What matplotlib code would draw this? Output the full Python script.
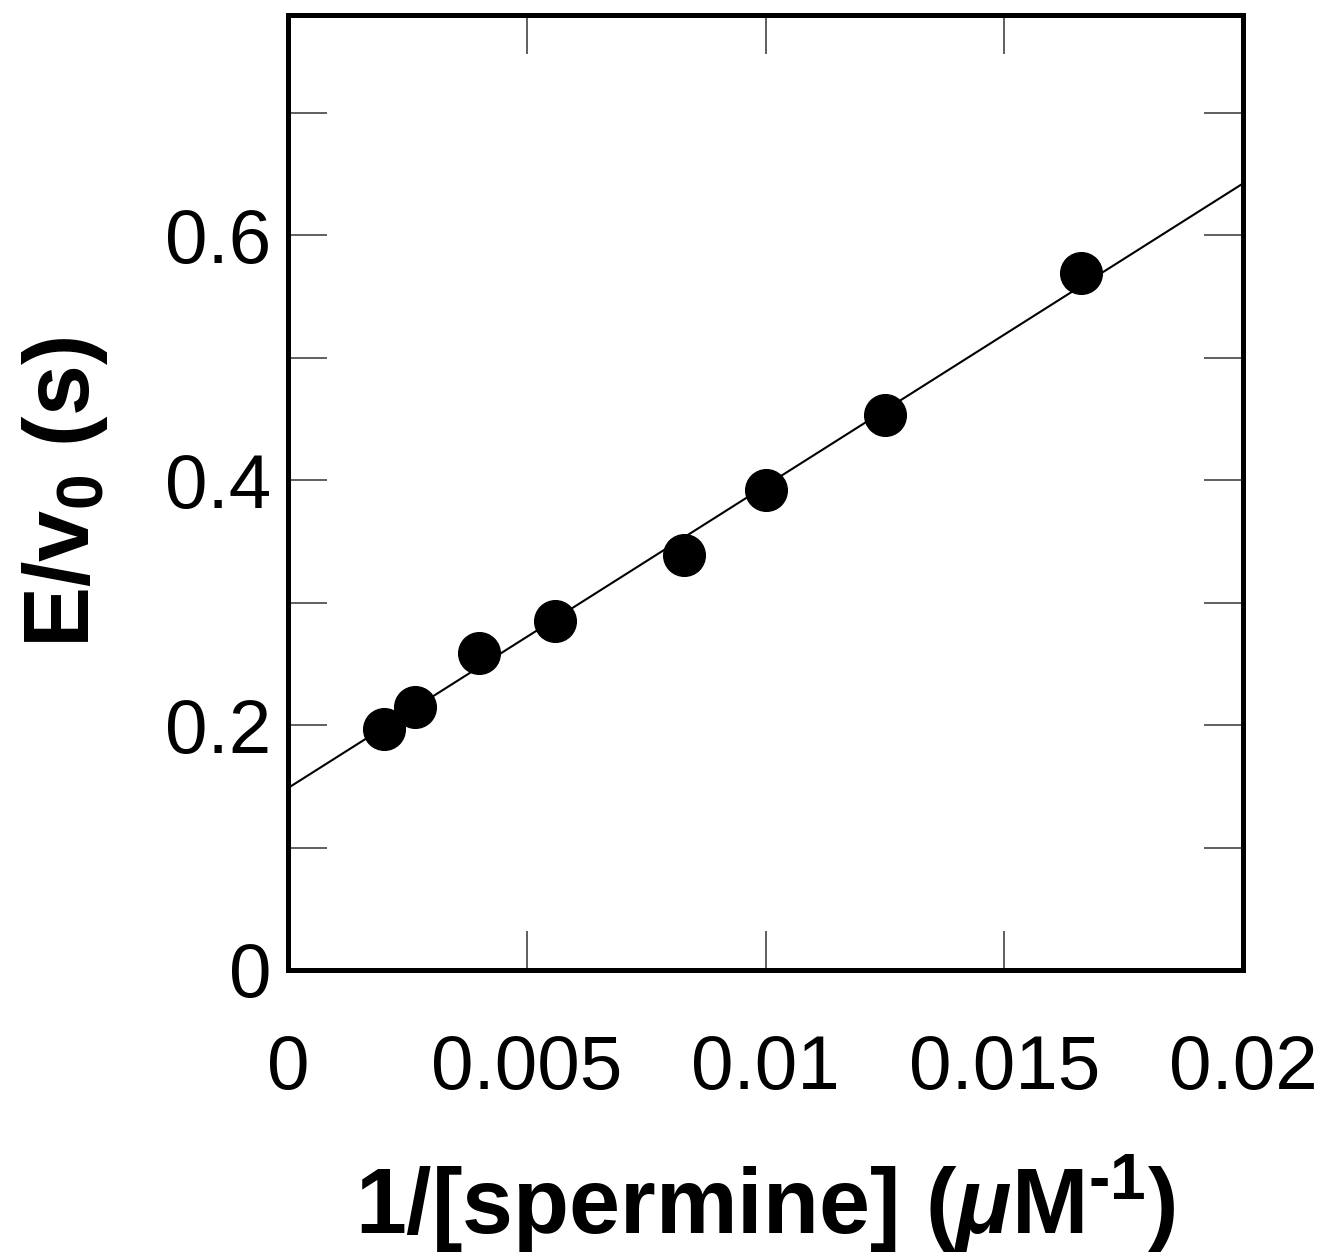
import matplotlib
matplotlib.use("Agg")
import matplotlib.pyplot as plt
import numpy as np

# Data
inv_spermine = [0.0020, 0.00267, 0.0040, 0.0056, 0.0083, 0.0100, 0.0125, 0.0166]
e_over_v0 = [0.197, 0.215, 0.259, 0.285, 0.339, 0.392, 0.453, 0.569]
fit_intercept = 0.1486
fit_slope = 24.69
x_ticks = [0, 0.005, 0.01, 0.015, 0.02]
x_ticklabels = ["0", "0.005", "0.01", "0.015", "0.02"]
y_ticks = [0, 0.2, 0.4, 0.6]
y_ticklabels = ["0", "0.2", "0.4", "0.6"]

plt.rcParams['font.family'] = ['Liberation Sans', 'DejaVu Sans']
plt.rcParams['mathtext.fontset'] = 'custom'
plt.rcParams['mathtext.rm'] = 'Liberation Sans:bold'
plt.rcParams['mathtext.it'] = 'Liberation Sans:italic:bold'
plt.rcParams['mathtext.bf'] = 'Liberation Sans:bold'

fig = plt.figure(figsize=(13.25, 12.52), dpi=100)
ax = fig.add_axes([288/1325, 1 - 970/1252, (1243-288)/1325, (970-15)/1252])

xf = np.array([0.0, 0.02])
ax.plot(xf, fit_intercept + fit_slope * xf, color='black', lw=1.5, zorder=2)
ax.plot(inv_spermine, e_over_v0, 'o', color='black', ms=30, zorder=3)

ax.set_xlim(0, 0.02)
ax.set_ylim(0, 0.78)
ax.set_xticks(x_ticks)
ax.set_xticklabels(x_ticklabels)
ax.set_yticks(y_ticks)
ax.set_yticklabels(y_ticklabels)
ax.set_yticks([0.1, 0.3, 0.5, 0.7], minor=True)

for s in ax.spines.values():
    s.set_linewidth(3.6)

ax.tick_params(which='both', direction='in', top=True, right=True,
               length=28, width=1.2, color='#444444', labelsize=55, pad=46)
ax.tick_params(axis='y', which='both', pad=12)

ax.set_xlabel(r'1/[spermine] ($\mu$M$^{\text{-}1}$)', fontsize=66,
              fontweight='bold', labelpad=34)
ax.set_ylabel(r'E/v$_{\mathbf{0}}$ (s)', fontsize=66, fontweight='bold', labelpad=40)

fig.savefig('out.png', dpi=100)
